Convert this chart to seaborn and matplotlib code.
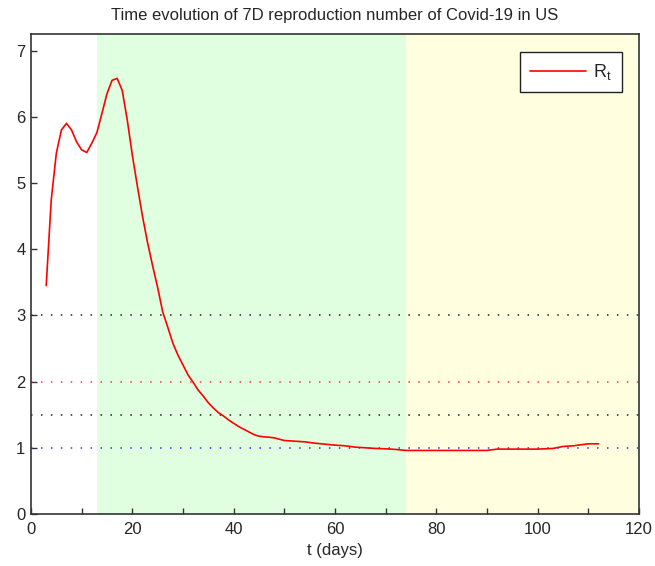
import matplotlib
matplotlib.use("Agg")
import matplotlib.pyplot as plt
import seaborn as sns
import pandas as pd

days = [3, 4, 5, 6, 7, 8, 9, 10, 11, 12, 13, 14, 15, 16, 17, 18, 19, 20, 21, 22,
        23, 24, 25, 26, 27, 28, 29, 30, 31, 32, 33, 34, 35, 36, 37, 38, 39, 40,
        41, 42, 43, 44, 45, 46, 47, 48, 49, 50, 52, 54, 56, 58, 60, 62, 64, 66,
        68, 70, 72, 74, 78, 82, 86, 90, 92, 96, 100, 103, 105, 107, 108, 110, 112]
rt = [3.45, 4.75, 5.45, 5.8, 5.9, 5.8, 5.62, 5.5, 5.46, 5.6, 5.76, 6.05, 6.35,
      6.55, 6.58, 6.4, 5.95, 5.42, 4.95, 4.5, 4.1, 3.75, 3.42, 3.05, 2.82, 2.58,
      2.4, 2.25, 2.1, 1.99, 1.87, 1.78, 1.68, 1.6, 1.53, 1.48, 1.42, 1.37, 1.32,
      1.28, 1.24, 1.2, 1.175, 1.165, 1.16, 1.15, 1.13, 1.11, 1.1, 1.09, 1.07,
      1.055, 1.04, 1.03, 1.01, 1.0, 0.99, 0.985, 0.975, 0.96, 0.96, 0.96, 0.96,
      0.96, 0.98, 0.98, 0.98, 0.99, 1.02, 1.03, 1.04, 1.06, 1.06]

phase_edges = [13, 74, 120]
phase_colors = ["#e0ffe0", "#ffffe0"]
ref_levels = [3, 2, 1.5, 1]
ref_colors = ["#222222", "#ff3333", "#222222", "#3333ff"]

sns.set_theme(style="white")
plt.rcParams["font.family"] = ["Liberation Sans", "DejaVu Sans"]
plt.rcParams["mathtext.fontset"] = "custom"
plt.rcParams["mathtext.rm"] = "Liberation Sans"
plt.rcParams["mathtext.it"] = "Liberation Sans"

fig = plt.figure(figsize=(6.55, 5.66), dpi=100)
ax = fig.add_axes([31 / 655, 1 - 514 / 566, (639 - 31) / 655, (514 - 34) / 566])

for i, c in enumerate(phase_colors):
    ax.axvspan(phase_edges[i], phase_edges[i + 1], color=c, lw=0, zorder=0)

for lvl, c in zip(ref_levels, ref_colors):
    ax.axhline(lvl, color=c, lw=1.1, ls=(0, (1, 5.5)), zorder=1)

df = pd.DataFrame({"t": days, "Rt": rt})
sns.lineplot(data=df, x="t", y="Rt", ax=ax, color="#ff0000", lw=1.2,
             label="R$_t$", zorder=3)

ax.set_xlim(0, 120)
ax.set_ylim(0, 7.25)
ax.set_xticks(range(0, 121, 20))
ax.set_xticks(range(0, 121, 10), minor=True)
ax.set_yticks(range(0, 8))
ax.tick_params(axis="both", which="both", direction="in", length=4, width=1,
               color="#333333", labelsize=12, pad=4,
               bottom=True, left=True, top=False, right=False)
ax.tick_params(axis="x", pad=6)
for s in ax.spines.values():
    s.set_color("#333333")
    s.set_linewidth(1.2)

ax.set_title("Time evolution of 7D reproduction number of Covid-19 in US",
             fontsize=12, pad=10)
ax.set_xlabel("t (days)", fontsize=12, labelpad=4)
ax.set_ylabel("")

leg = ax.legend(loc="upper right", bbox_to_anchor=((622 - 31) / 608, (514 - 52) / 480),
                borderaxespad=0, fontsize=13, frameon=True, fancybox=False,
                handlelength=3.1, borderpad=0.55, handletextpad=0.4)
leg.get_frame().set_edgecolor("#222222")
leg.get_frame().set_facecolor("white")
leg.get_frame().set_linewidth(1.0)
leg.get_frame().set_alpha(1)

fig.savefig("out.png", dpi=100, facecolor="white")
